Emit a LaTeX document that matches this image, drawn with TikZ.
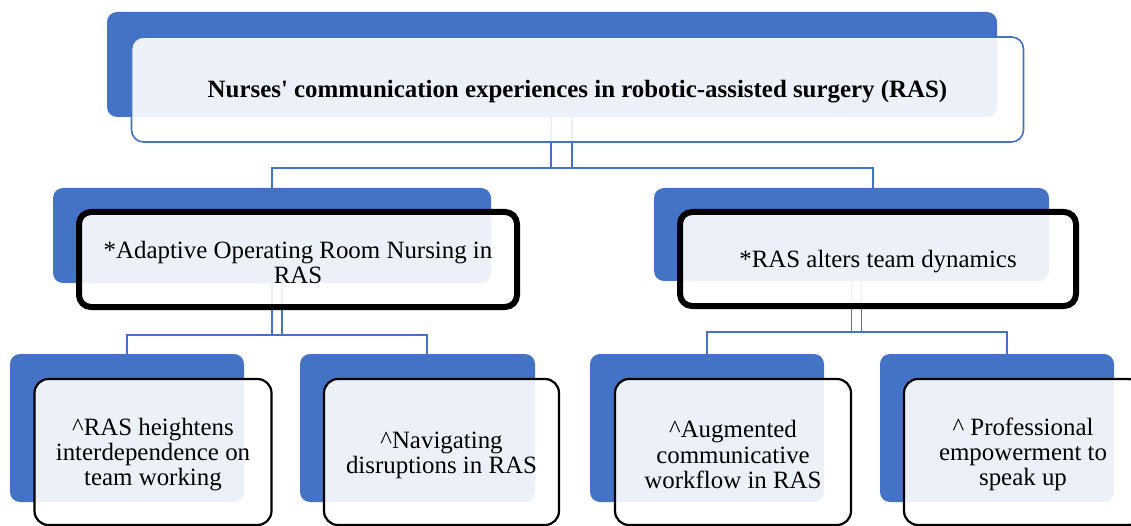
\documentclass[tikz,border=0pt]{standalone}
\usepackage{fontspec}
\setmainfont{Liberation Serif}
\usepackage{xcolor}
\usetikzlibrary{positioning}
\definecolor{officeblue}{HTML}{4472C4}
\newcommand{\lowerline}{\rule{0pt}{22.5pt}}

\begin{document}
\begin{tikzpicture}[
			x=1pt, y=-1pt,
			every node/.style={rectangle, align=center, inner sep=0pt, font=\fontsize{24.9}{25.2}\selectfont},
			backbox/.style={fill=officeblue, rounded corners=10pt},
			frontbox/.style={fill=white, fill opacity=0.9, text opacity=1, rounded corners=12pt},
			topbox/.style={frontbox, draw=officeblue, line width=1.6pt},
			themebox/.style={frontbox, draw=black, line width=6pt},
			subbox/.style={frontbox, draw=black, line width=2.2pt, rounded corners=14pt},
			link/.style={draw=officeblue, line width=1.5pt}
			]
			\path[use as bounding box, clip] (0,0) rectangle (1131,526);
			
			% Back boxes
			\node (main_back) [backbox, minimum width=890pt, minimum height=105pt] at (552,64.5) {};
			\node (adaptive_back) [backbox, minimum width=438pt, minimum height=95pt] at (272,235.5) {};
			\node (dynamics_back) [backbox, minimum width=395pt, minimum height=93pt] at (851.5,234.5) {};
			\node (interdep_back) [backbox, minimum width=234pt, minimum height=148pt] at (127,428) {};
			\node (disrupt_back) [backbox, minimum width=235pt, minimum height=148pt] at (417.5,428) {};
			\node (workflow_back) [backbox, minimum width=234pt, minimum height=148pt] at (707,428) {};
			\node (speakup_back) [backbox, minimum width=234pt, minimum height=148pt] at (997,428) {};
			
			% Connections
			\draw [link] ([xshift=20pt]main_back.south) -- ++(0,51) -| (adaptive_back.north);
			\draw [link] ([xshift=-1pt]main_back.south) -- ++(0,51) -| ([xshift=21.5pt]dynamics_back.north);
			\draw [link] ([xshift=10pt]adaptive_back.south) -- ++(0,52) -| (interdep_back.north);
			\draw [link] (adaptive_back.south) -- ++(0,52) -| ([xshift=9.5pt]disrupt_back.north);
			\draw [link] ([xshift=10pt]dynamics_back.south) -- ++(0,51) -| (workflow_back.north);
			\draw [link] (dynamics_back.south) -- ++(0,51) -| ([xshift=10pt]speakup_back.north);
			
			% Front boxes
			\node (main) [topbox, minimum width=892pt, minimum height=105pt] at (577.5,89.5) {\lowerline\bfseries Nurses\textquotesingle{} communication experiences in robotic-assisted surgery (RAS)};
			\node (adaptive) [themebox, minimum width=438pt, minimum height=95pt] at (298,259.5) {\lowerline*Adaptive Operating Room Nursing in\\RAS};
			\node (dynamics) [themebox, minimum width=396pt, minimum height=94pt] at (878,259) {\lowerline*RAS alters team dynamics};
			\node (interdep) [subbox, minimum width=237pt, minimum height=146pt] at (153,452) {\lowerline\textasciicircum{}RAS heightens\\interdependence on\\team working};
			\node (disrupt) [subbox, minimum width=235pt, minimum height=146pt] at (441.5,452) {\lowerline\textasciicircum{}Navigating\\disruptions in RAS};
			\node (workflow) [subbox, minimum width=236pt, minimum height=146pt] at (733,452) {\lowerline\textasciicircum{}Augmented\\communicative\\workflow in RAS};
			\node (speakup) [subbox, minimum width=238pt, minimum height=146pt] at (1023,452) {\lowerline\textasciicircum{} Professional\\empowerment to\\speak up};
			
		\end{tikzpicture}
\end{document}
